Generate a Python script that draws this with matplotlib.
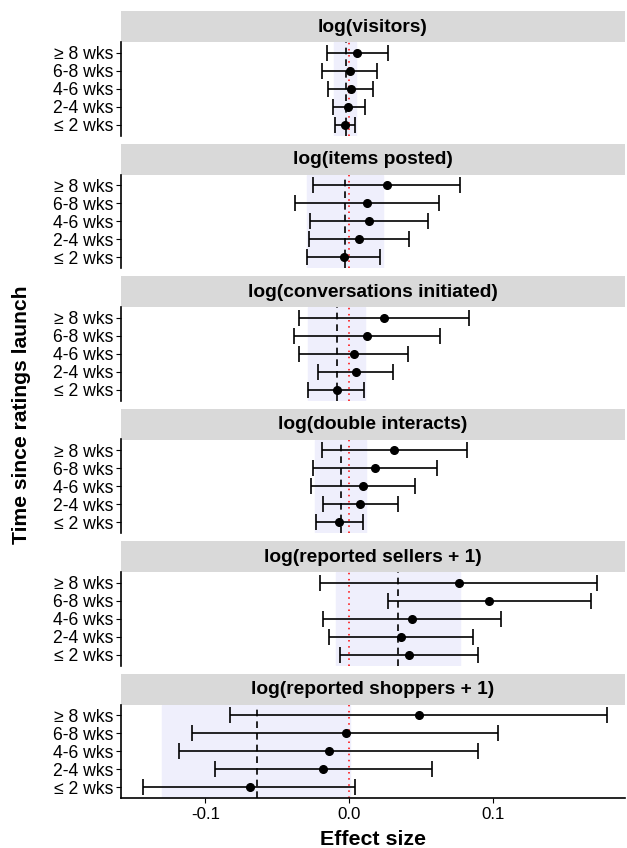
import matplotlib.pyplot as plt
import numpy as np

plt.rcParams['font.family'] = ['Liberation Sans', 'DejaVu Sans']

# Outcome measures (one facet each) and time bins (rows, bottom to top)
outcomes = ["log(visitors)", "log(items posted)", "log(conversations initiated)",
            "log(double interacts)", "log(reported sellers + 1)",
            "log(reported shoppers + 1)"]
periods = ["\u2264 2 wks", "2-4 wks", "4-6 wks", "6-8 wks", "\u2265 8 wks"]

# Per-period estimates and 95% intervals, rows ordered as in periods
est = [
    [-0.0030, -0.0009, 0.0012, 0.0005, 0.0056],
    [-0.0038, 0.0068, 0.0138, 0.0124, 0.0258],
    [-0.0089, 0.0043, 0.0029, 0.0120, 0.0240],
    [-0.0069, 0.0077, 0.0098, 0.0180, 0.0308],
    [0.0417, 0.0359, 0.0435, 0.0971, 0.0763],
    [-0.0693, -0.0180, -0.0140, -0.0026, 0.0485],
]
lower = [
    [-0.0097, -0.0116, -0.0146, -0.0190, -0.0157],
    [-0.0294, -0.0280, -0.0276, -0.0376, -0.0251],
    [-0.0290, -0.0217, -0.0351, -0.0388, -0.0351],
    [-0.0231, -0.0183, -0.0264, -0.0252, -0.0192],
    [-0.0062, -0.0143, -0.0185, 0.0267, -0.0206],
    [-0.1430, -0.0935, -0.1180, -0.1090, -0.0831],
]
upper = [
    [0.0037, 0.0106, 0.0162, 0.0192, 0.0266],
    [0.0212, 0.0414, 0.0545, 0.0622, 0.0766],
    [0.0099, 0.0302, 0.0410, 0.0626, 0.0833],
    [0.0094, 0.0335, 0.0455, 0.0609, 0.0818],
    [0.0895, 0.0858, 0.1050, 0.1675, 0.1719],
    [0.0038, 0.0575, 0.0890, 0.1034, 0.1786],
]

# Pooled effect over all periods and its interval
pooled = [-0.0023, -0.0029, -0.0085, -0.0060, 0.0336, -0.0645]
pooled_lo = [-0.0110, -0.0294, -0.0285, -0.0240, -0.0093, -0.1300]
pooled_hi = [0.0047, 0.0230, 0.0109, 0.0116, 0.0767, 0.0004]

W, H = 627, 848
fig = plt.figure(figsize=(W / 100, H / 100), dpi=100)

left, right = 121, 625
top0, step = 11, 132.5
strip_h, panel_h = 31, 93.5
xlim = (-0.1586, 0.1914)


def frac(x0, y0, w, h):
    return [x0 / W, 1 - (y0 + h) / H, w / W, h / H]


ypos = np.arange(1, len(periods) + 1)

for i, name in enumerate(outcomes):
    ytop = top0 + step * i

    # grey strip with the facet title
    sax = fig.add_axes(frac(left, ytop, right - left, strip_h))
    sax.set_facecolor('#D9D9D9')
    sax.set_xticks([])
    sax.set_yticks([])
    for s in sax.spines.values():
        s.set_visible(False)
    sax.text(0.5, 0.47, name, ha='center', va='center', fontsize=13.8,
             fontweight='bold', transform=sax.transAxes)

    ax = fig.add_axes(frac(left, ytop + strip_h, right - left, panel_h))
    ax.axvspan(pooled_lo[i], pooled_hi[i], color='#EFEFFC', zorder=0)
    ax.axvline(pooled[i], color='black', ls=(0, (4, 3)), lw=1.2, zorder=1)
    ax.axvline(0, color='red', ls=(0, (1, 3)), lw=1.1, zorder=1)

    e = np.array(est[i])
    lo = np.array(lower[i])
    hi = np.array(upper[i])
    ax.errorbar(e, ypos, xerr=[e - lo, hi - e], fmt='o', color='black',
                ms=5.5, elinewidth=1.2, capsize=5.6, capthick=1.2, zorder=3)

    ax.set_xlim(*xlim)
    ax.set_ylim(0.4, len(periods) + 0.6)
    ax.set_yticks(ypos)
    ax.set_yticklabels(periods, fontsize=12.7)
    ax.tick_params(axis='y', length=3.5, width=0.8, pad=2)
    for s in ['top', 'right']:
        ax.spines[s].set_visible(False)
    ax.spines['left'].set_linewidth(1.2)

    if i < len(outcomes) - 1:
        ax.spines['bottom'].set_visible(False)
        ax.set_xticks([])
    else:
        ax.spines['bottom'].set_linewidth(1.2)
        ax.set_xticks([-0.1, 0.0, 0.1])
        ax.set_xticklabels(['-0.1', '0.0', '0.1'], fontsize=12.2)
        ax.tick_params(axis='x', length=3.5, width=0.8, pad=3)
        ax.set_xlabel("Effect size", fontsize=15.4, fontweight='bold', labelpad=6)

fig.text(22 / W, 1 - 415 / H, "Time since ratings launch", rotation=90,
         ha='center', va='center', fontsize=15.2, fontweight='bold')

fig.savefig("out.png", dpi=100)
